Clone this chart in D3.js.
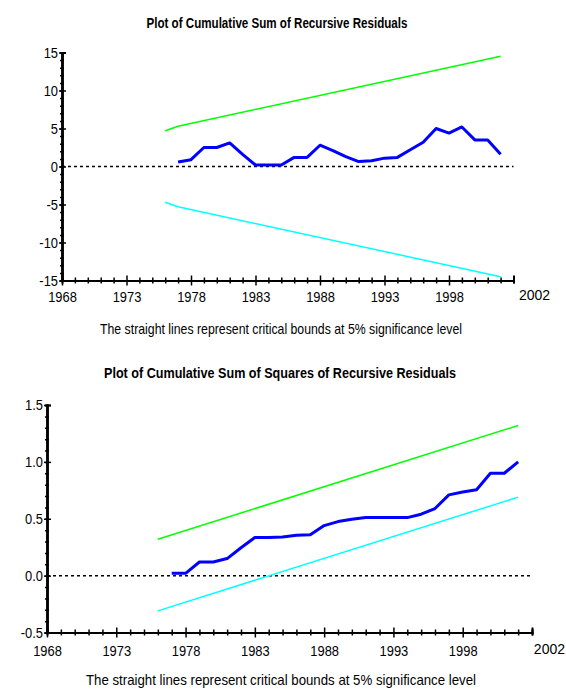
<!DOCTYPE html>
<html>
<head>
<meta charset="utf-8">
<script src="https://cdn.jsdelivr.net/npm/d3@7"></script>
<style>
body { margin: 0; background: #fff; }
svg text { font-family: "Liberation Sans", Arial, sans-serif; fill: #000; }
</style>
</head>
<body>
<svg id="drawing_region"></svg>
<script>
// values
const years = [1977,1978,1979,1980,1981,1982,1983,1984,1985,1986,1987,1988,1989,
               1990,1991,1992,1993,1994,1995,1996,1997,1998,1999,2000,2001,2002];
const cusum = [0.6,0.9,2.5,2.5,3.1,1.6,0.2,0.2,0.2,1.2,1.2,2.8,2.1,
               1.3,0.65,0.75,1.1,1.2,2.2,3.2,5.0,4.4,5.2,3.5,3.5,1.6];
const cusumsq = [0.02,0.02,0.12,0.12,0.15,0.245,0.335,0.335,0.34,0.355,0.36,0.44,0.475,
                 0.495,0.51,0.51,0.51,0.51,0.54,0.59,0.71,0.735,0.755,0.90,0.90,1.00];

const boundYears = [1976, 1977, 2002];
const cusumUpper = [4.7, 5.3, 14.5];
const cusumLower = [-4.7, -5.3, -14.5];

const sqBoundYears = [1976, 2002];
const cusumsqUpper = [0.32, 1.32];
const cusumsqLower = [-0.31, 0.69];

const xTickYears = [1968, 1973, 1978, 1983, 1988, 1993, 1998];
const xEndLabel = '2002';
const cusumTicks = [-15, -10, -5, 0, 5, 10, 15];
const cusumsqTicks = [-0.5, 0.0, 0.5, 1.0, 1.5];

const subtitle = 'The straight lines represent critical bounds at 5% significance level';

// squeeze text horizontally so it looks like a narrow face
function narrow(sel, factor) {
    sel.each(function() {
        let w = this.getComputedTextLength();
        d3.select(this)
            .attr('textLength', w * factor)
            .attr('lengthAdjust', 'spacingAndGlyphs');
    });
}

class CusumPlot {

    constructor( config ) {
        this.config = config;
        this.init();
    }

    init() {
        let self = this;
        let c = self.config;

        self.svg = d3.select( c.parent );
        self.chart = self.svg.append('g');

        self.xscale = d3.scaleLinear()
            .domain([1968, 2003])
            .range([c.left, c.right]);

        self.yscale = d3.scaleLinear()
            .domain(c.ydomain)
            .range([c.bottom, c.top]);

        self.line = d3.line()
            .x(d => self.xscale(d[0]))
            .y(d => self.yscale(d[1]));
    }

    render() {
        let self = this;
        let c = self.config;

        // zero reference line
        self.chart.append('line')
            .attr('x1', self.xscale(1968)).attr('x2', self.xscale(2003))
            .attr('y1', self.yscale(0)).attr('y2', self.yscale(0))
            .attr('stroke', '#000')
            .attr('stroke-width', 1.5)
            .attr('stroke-dasharray', '3,3');

        self.chart.append('path')
            .datum(d3.zip(c.boundYears, c.upper))
            .attr('d', self.line)
            .attr('fill', 'none')
            .attr('stroke', '#00ff00')
            .attr('stroke-width', 1.5);

        self.chart.append('path')
            .datum(d3.zip(c.boundYears, c.lower))
            .attr('d', self.line)
            .attr('fill', 'none')
            .attr('stroke', '#00ffff')
            .attr('stroke-width', 1.5);

        self.chart.append('path')
            .datum(d3.zip(years, c.values))
            .attr('d', self.line)
            .attr('fill', 'none')
            .attr('stroke', '#0000ff')
            .attr('stroke-width', 3)
            .attr('stroke-linejoin', 'round');

        // x axis: ticks cross the axis line
        let xAxisY = c.bottom;
        let minorYears = d3.range(1969, 2004).filter(d => !xTickYears.includes(d));

        self.chart.append('g')
            .attr('transform', `translate(0, ${xAxisY})`)
            .call(d3.axisTop(self.xscale).tickValues(minorYears).tickSize(3).tickFormat(''));
        self.chart.append('g')
            .attr('transform', `translate(0, ${xAxisY})`)
            .call(d3.axisBottom(self.xscale).tickValues(minorYears).tickSize(3).tickFormat(''));
        self.chart.append('g')
            .attr('transform', `translate(0, ${xAxisY})`)
            .call(d3.axisTop(self.xscale).tickValues(xTickYears).tickSize(5).tickFormat(''));
        let xaxis = self.chart.append('g')
            .attr('transform', `translate(0, ${xAxisY})`)
            .call(d3.axisBottom(self.xscale).tickValues(xTickYears)
                .tickSize(5).tickSizeOuter(0).tickPadding(c.xpad).tickFormat(d3.format('d')));
        xaxis.selectAll('text').attr('font-size', 15).call(narrow, 0.86);

        // end label sits past the axis end, kept inside the page
        self.chart.append('text')
            .attr('x', c.endLabelX)
            .attr('y', xAxisY + c.xpad + 13)
            .attr('text-anchor', c.endAnchor)
            .attr('font-size', 14)
            .text(xEndLabel);

        // y axis
        let minorY = d3.range(c.ydomain[0], c.ydomain[1] + c.minorStep / 2, c.minorStep);
        self.chart.append('g')
            .attr('transform', `translate(${c.left}, 0)`)
            .call(d3.axisLeft(self.yscale).tickValues(minorY).tickSize(2).tickFormat(''));
        self.chart.append('g')
            .attr('transform', `translate(${c.left}, 0)`)
            .call(d3.axisRight(self.yscale).tickValues(minorY).tickSize(2).tickFormat(''));
        self.chart.append('g')
            .attr('transform', `translate(${c.left}, 0)`)
            .call(d3.axisRight(self.yscale).tickValues(c.yticks).tickSize(4).tickFormat(''));
        let yaxis = self.chart.append('g')
            .attr('transform', `translate(${c.left}, 0)`)
            .call(d3.axisLeft(self.yscale).tickValues(c.yticks)
                .tickSize(3).tickSizeOuter(0).tickPadding(1).tickFormat(c.yformat));
        yaxis.selectAll('text').attr('font-size', 15).call(narrow, 0.86);

        self.chart.selectAll('.domain').attr('stroke-width', 2);
        self.chart.selectAll('.tick line').attr('stroke-width', 1.5);
        self.chart.selectAll('g').attr('font-family', null);

        // titles
        self.chart.append('text')
            .attr('x', c.titleX).attr('y', c.titleY)
            .attr('text-anchor', 'middle')
            .attr('font-size', 15)
            .attr('font-weight', 'bold')
            .attr('textLength', c.titleLen)
            .attr('lengthAdjust', 'spacingAndGlyphs')
            .text(c.title);

        self.chart.append('text')
            .attr('x', c.subX).attr('y', c.subY)
            .attr('text-anchor', 'middle')
            .attr('font-size', 15)
            .attr('textLength', c.subLen)
            .attr('lengthAdjust', 'spacingAndGlyphs')
            .text(subtitle);
    }
}

d3.select('#drawing_region')
    .attr('width', 566)
    .attr('height', 691);

let top_plot = new CusumPlot({
    parent: '#drawing_region',
    left: 62, right: 513.5, top: 52.5, bottom: 280.5,
    ydomain: [-15, 15], yticks: cusumTicks, minorStep: 1,
    yformat: d => String(d),
    xpad: 6,
    endLabelX: 519, endAnchor: 'start',
    boundYears: boundYears, upper: cusumUpper, lower: cusumLower,
    values: cusum,
    title: 'Plot of Cumulative Sum of Recursive Residuals',
    titleX: 277, titleY: 28, titleLen: 261,
    subX: 281, subY: 334, subLen: 362
});
top_plot.render();

let bottom_plot = new CusumPlot({
    parent: '#drawing_region',
    left: 47, right: 532, top: 405, bottom: 632.5,
    ydomain: [-0.5, 1.5], yticks: cusumsqTicks, minorStep: 0.1,
    yformat: d => d.toFixed(1),
    xpad: 8,
    endLabelX: 565, endAnchor: 'end',
    boundYears: sqBoundYears, upper: cusumsqUpper, lower: cusumsqLower,
    values: cusumsq,
    title: 'Plot of Cumulative Sum of Squares of Recursive Residuals',
    titleX: 280, titleY: 378, titleLen: 352,
    subX: 281, subY: 685, subLen: 390
});
bottom_plot.render();
</script>
</body>
</html>
